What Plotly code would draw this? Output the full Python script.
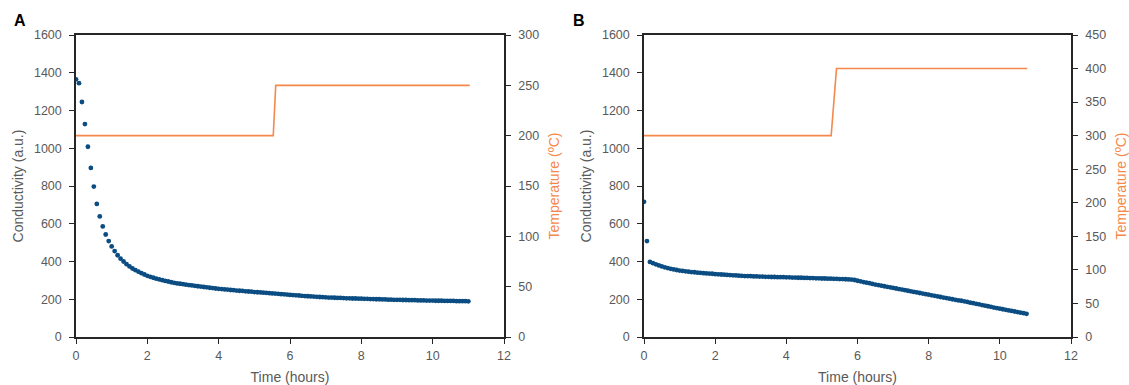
import plotly.graph_objects as go

# ---------------- data ----------------
# Panel A: conductivity sampled every 5 min (t = i/12 h)
cond_a = [
    1365, 1345, 1245, 1128, 1008, 896, 797, 705, 639, 586, 543, 508,
    480, 455, 433, 415, 400, 386, 374, 363, 354, 346, 338, 331,
    324, 319, 314, 309, 305, 301, 297, 294, 290, 287, 284, 282,
    280, 277, 275, 273, 271, 269, 267, 265, 263, 261, 259, 257,
    255, 254, 252, 251, 249, 248, 246, 245, 244, 242, 241, 240,
    238, 237, 236, 235, 234, 232, 231, 230, 229, 227, 226, 225,
    223, 222, 221, 220, 218, 217, 216, 215, 214, 213, 212, 211,
    210, 209, 209, 208, 207, 207, 206, 205, 205, 204, 204, 203,
    203, 202, 202, 201, 201, 200, 200, 199, 199, 198, 198, 197,
    197, 197, 196, 196, 195, 195, 195, 194, 194, 194, 193, 193,
    193, 192, 192, 192, 191, 191, 191, 191, 190, 190, 190, 190,
    189,
]
time_a = [i / 12 for i in range(len(cond_a))]

temp_time_a = [0, 5.53, 5.60, 11.04]
temp_a = [200, 200, 250, 250]

# Panel B
cond_b = [
    716, 508, 398, 391, 385, 379, 374, 369, 365, 361, 358, 355,
    352, 350, 348, 346, 344, 343, 341, 340, 338, 337, 336, 335,
    333, 332, 331, 330, 329, 328, 327, 326, 325, 324, 323, 323,
    322, 321, 321, 320, 320, 319, 319, 318, 318, 317, 317, 317,
    316, 316, 315, 315, 314, 314, 313, 313, 312, 312, 311, 311,
    310, 310, 309, 309, 308, 308, 307, 307, 306, 305, 304, 302,
    298, 295, 291, 288, 285, 281, 278, 275, 272, 269, 266, 263,
    260, 257, 254, 251, 248, 245, 242, 239, 236, 233, 230, 227,
    224, 221, 218, 215, 212, 209, 206, 203, 200, 197, 194, 192,
    189, 186, 182, 179, 176, 173, 169, 166, 163, 160, 156, 153,
    150, 147, 144, 141, 138, 135, 132, 129, 126, 123,
]
time_b = [i / 12 for i in range(len(cond_b))]

temp_time_b = [0, 5.26, 5.41, 10.77]
temp_b = [300, 300, 400, 400]

x_ticks = [0, 2, 4, 6, 8, 10, 12]

# ---------------- style ----------------
BLUE = "#0b4d82"
ORANGE = "#f4894b"
GREY = "#595959"
AXIS = "#262626"
FONT = "Liberation Sans"

fig = go.Figure()

fig.add_trace(go.Scatter(x=time_a, y=cond_a, mode="markers",
                         marker=dict(color=BLUE, size=4.8), xaxis="x", yaxis="y",
                         showlegend=False))
fig.add_trace(go.Scatter(x=temp_time_a, y=temp_a, mode="lines",
                         line=dict(color=ORANGE, width=1.6), xaxis="x", yaxis="y2",
                         showlegend=False))
fig.add_trace(go.Scatter(x=time_b, y=cond_b, mode="markers",
                         marker=dict(color=BLUE, size=4.8), xaxis="x2", yaxis="y3",
                         showlegend=False))
fig.add_trace(go.Scatter(x=temp_time_b, y=temp_b, mode="lines",
                         line=dict(color=ORANGE, width=1.6), xaxis="x2", yaxis="y4",
                         showlegend=False))

W, H = 1129, 385
dom_y = [1 - 337 / H, 1 - 35 / H]
dom_a = [76 / W, 504 / W]
dom_b = [644 / W, 1071 / W]

tickfont = dict(family=FONT, size=12.5, color=GREY)
titlefont = dict(family=FONT, size=14, color=GREY)
otitlefont = dict(family=FONT, size=14, color=ORANGE)

def xax(domain, anchor):
    return dict(domain=domain, anchor=anchor, range=[0, 12], tickvals=x_ticks,
                automargin=False,
                showgrid=False, zeroline=False, showline=True, linecolor=AXIS,
                linewidth=1.5, mirror=True, ticks="outside", ticklen=5,
                tickcolor=AXIS, tickfont=tickfont, ticklabelstandoff=1,
                title=dict(text="Time (hours)", font=titlefont, standoff=14))

def yax_left(anchor, title):
    return dict(domain=dom_y, anchor=anchor, range=[0, 1600], dtick=200,
                automargin=False,
                showgrid=False, zeroline=False, showline=True, linecolor=AXIS,
                linewidth=1.5, ticks="outside", ticklen=5, tickcolor=AXIS,
                tickfont=tickfont, ticklabelstandoff=5,
                title=dict(text=title, font=titlefont, standoff=7))

def yax_right(anchor, overlay, rng, dtick):
    return dict(anchor=anchor, overlaying=overlay, side="right", range=rng, dtick=dtick,
                automargin=False,
                showgrid=False, zeroline=False, showline=True, linecolor=AXIS,
                linewidth=1.5, ticks="outside", ticklen=5, tickcolor=AXIS,
                tickfont=tickfont, ticklabelstandoff=5,
                title=dict(text="Temperature (ºC)", font=otitlefont, standoff=11))

fig.update_layout(
    width=W, height=H,
    margin=dict(l=0, r=0, t=0, b=0, autoexpand=False),
    paper_bgcolor="white", plot_bgcolor="white",
    xaxis=xax(dom_a, "y"),
    yaxis=yax_left("x", "Conductivity (a.u.)"),
    yaxis2=yax_right("x", "y", [0, 300], 50),
    xaxis2=xax(dom_b, "y3"),
    yaxis3=yax_left("x2", "Conductivity (a.u.)"),
    yaxis4=yax_right("x2", "y3", [0, 450], 50),
    annotations=[
        dict(text="<b>A</b>", x=12 / W, y=1 - 20 / H, xref="paper", yref="paper",
             showarrow=False, font=dict(family=FONT, size=16, color="black"),
             xanchor="left", yanchor="middle"),
        dict(text="<b>B</b>", x=571 / W, y=1 - 20 / H, xref="paper", yref="paper",
             showarrow=False, font=dict(family=FONT, size=16, color="black"),
             xanchor="left", yanchor="middle"),
    ],
)

fig.write_html("out.html", config={"displayModeBar": False},
               post_script="document.body.style.margin='0';")
